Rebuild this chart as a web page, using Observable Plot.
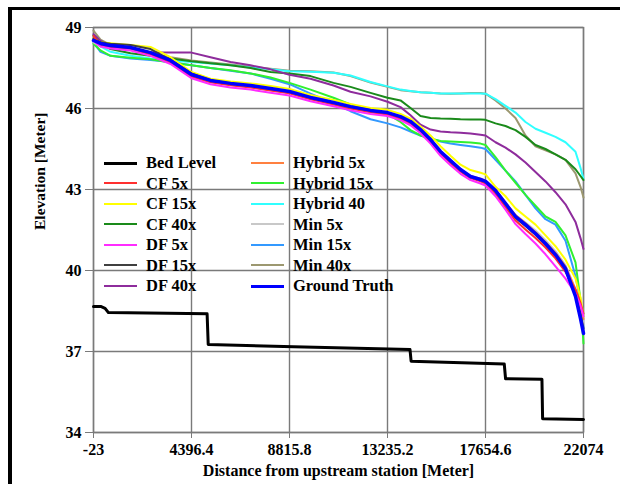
<!DOCTYPE html>
<html>
<head>
<meta charset="utf-8">
<script src="https://cdn.jsdelivr.net/npm/d3@7"></script>
<script src="https://cdn.jsdelivr.net/npm/@observablehq/plot@0.6"></script>
<style>
  html, body { margin: 0; padding: 0; background: #fff; }
  #wrap { position: relative; width: 620px; height: 484px; overflow: hidden; background: #fff; }
  #border { position: absolute; left: 8px; top: 7px; width: 640px; height: 500px; border-left: 4px solid #000; border-top: 3px solid #000; box-sizing: border-box; }
  #chart { position: absolute; left: 0; top: 0; }
  .legend { position: absolute; left: 0; top: 0; font-family: "Liberation Serif", "Times New Roman", serif; font-weight: bold; font-size: 16.5px; color: #000; }
  .legend .item { position: absolute; white-space: nowrap; height: 20px; line-height: 20px; }
  .legend .sw { position: absolute; width: 33px; }
  .legend .lab { position: absolute; left: 42px; top: 0; }
</style>
</head>
<body>
<div id="wrap">
  <div id="chart"></div>
  <div id="border"></div>
  <div class="legend" id="legend"></div>
</div>
<script>
// Stations along the reach [m]
const stations = [-23, 293, 744, 1646, 2548, 3449, 4396, 5253, 6155, 7057, 7959, 8816, 9763, 10800, 11566, 12468, 13235, 13822, 14273, 14724, 15175, 15625, 16076, 16527, 16978, 17429, 17655, 18106, 18557, 19008, 19458, 19909, 20360, 20811, 21262, 21713, 21939, 22074];

// Bed level (stepped profile)
const bedX = [-23, 300, 500, 650, 5100, 5150, 9000, 14250, 14300, 18500, 18560, 20200, 20230, 22074];
const bedY = [38.67, 38.67, 38.6, 38.44, 38.4, 37.26, 37.18, 37.07, 36.64, 36.54, 35.99, 35.97, 34.51, 34.48];

// Water surface elevations [m] at stations
const cf5 = [48.68, 48.35, 48.28, 48.22, 48.0, 47.7, 47.18, 46.97, 46.86, 46.78, 46.67, 46.56, 46.34, 46.15, 46.0, 45.86, 45.78, 45.62, 45.42, 45.12, 44.76, 44.33, 43.98, 43.66, 43.42, 43.30, 43.22, 42.85, 42.35, 41.85, 41.52, 41.2, 40.85, 40.45, 39.95, 39.3, 38.8, 38.4];
const cf15 = [48.6, 48.45, 48.42, 48.35, 48.28, 47.9, 47.35, 47.1, 47.0, 46.93, 46.83, 46.72, 46.5, 46.32, 46.17, 46.02, 45.95, 45.8, 45.62, 45.33, 45.0, 44.6, 44.25, 43.92, 43.72, 43.62, 43.56, 43.1, 42.75, 42.3, 42.0, 41.7, 41.3, 40.9, 40.4, 39.7, 39.0, 38.3];
const cf40 = [48.7, 48.4, 48.2, 48.05, 47.95, 47.85, 47.75, 47.68, 47.6, 47.5, 47.35, 47.3, 47.2, 46.95, 46.8, 46.58, 46.4, 46.3, 46.02, 45.72, 45.65, 45.63, 45.62, 45.6, 45.59, 45.59, 45.58, 45.45, 45.35, 45.2, 44.95, 44.65, 44.5, 44.3, 44.1, 43.75, 43.5, 43.35];
const df5 = [48.5, 48.3, 48.22, 48.15, 47.95, 47.65, 47.12, 46.9, 46.78, 46.7, 46.58, 46.48, 46.27, 46.08, 45.93, 45.8, 45.72, 45.57, 45.38, 45.08, 44.7, 44.25, 43.9, 43.58, 43.35, 43.22, 43.15, 42.75, 42.25, 41.72, 41.35, 41.0, 40.6, 40.15, 39.7, 39.15, 38.7, 38.3];
const df15 = [48.6, 48.45, 48.4, 48.35, 48.2, 47.8, 47.3, 47.05, 46.92, 46.83, 46.72, 46.6, 46.4, 46.2, 46.05, 45.9, 45.82, 45.67, 45.48, 45.18, 44.8, 44.36, 44.02, 43.7, 43.45, 43.34, 43.27, 42.9, 42.42, 41.95, 41.65, 41.32, 40.95, 40.5, 40.0, 39.1, 38.4, 37.85];
const df40 = [48.75, 48.5, 48.35, 48.2, 48.08, 48.07, 48.07, 47.9, 47.72, 47.6, 47.45, 47.25, 47.1, 46.85, 46.62, 46.45, 46.25, 46.05, 45.75, 45.4, 45.22, 45.15, 45.12, 45.1, 45.07, 45.03, 45.0, 44.75, 44.55, 44.3, 44.0, 43.65, 43.3, 42.9, 42.45, 41.8, 41.2, 40.8];
const hyb5 = [48.55, 48.38, 48.3, 48.24, 48.03, 47.74, 47.22, 47.0, 46.9, 46.82, 46.71, 46.6, 46.39, 46.2, 46.05, 45.92, 45.84, 45.68, 45.5, 45.2, 44.84, 44.4, 44.07, 43.75, 43.5, 43.4, 43.33, 43.0, 42.52, 42.05, 41.75, 41.42, 41.05, 40.65, 40.15, 39.3, 38.7, 38.2];
const hyb15 = [48.4, 48.15, 47.95, 47.88, 47.82, 47.7, 47.6, 47.5, 47.42, 47.3, 47.15, 46.95, 46.7, 46.4, 46.15, 45.95, 45.8, 45.5, 45.2, 45.0, 44.88, 44.8, 44.78, 44.76, 44.74, 44.7, 44.65, 44.2, 43.7, 43.25, 42.8, 42.4, 42.0, 41.8, 41.3, 40.3, 38.9, 37.3];
const hyb40 = [48.5, 48.3, 48.1, 47.95, 47.85, 47.78, 47.72, 47.67, 47.6, 47.52, 47.45, 47.38, 47.36, 47.32, 47.22, 46.98, 46.82, 46.7, 46.65, 46.6, 46.58, 46.56, 46.56, 46.56, 46.56, 46.56, 46.55, 46.35, 46.1, 45.85, 45.5, 45.25, 45.1, 44.95, 44.75, 44.4, 43.8, 43.4];
const min5 = [48.45, 48.3, 48.25, 48.2, 48.0, 47.72, 47.2, 46.98, 46.87, 46.8, 46.68, 46.57, 46.36, 46.16, 46.02, 45.88, 45.8, 45.65, 45.46, 45.16, 44.8, 44.37, 44.04, 43.72, 43.47, 43.36, 43.29, 42.95, 42.5, 42.05, 41.78, 41.48, 41.12, 40.72, 40.2, 39.3, 38.6, 38.0];
const min15 = [48.45, 48.1, 47.95, 47.85, 47.8, 47.72, 47.6, 47.5, 47.4, 47.3, 47.1, 46.9, 46.55, 46.2, 45.9, 45.6, 45.45, 45.3, 45.15, 45.0, 44.9, 44.78, 44.7, 44.65, 44.6, 44.55, 44.5, 44.1, 43.7, 43.3, 42.8, 42.3, 41.9, 41.7, 41.1, 39.8, 38.8, 37.9];
const min40 = [48.88, 48.55, 48.35, 48.2, 48.05, 47.9, 47.78, 47.7, 47.63, 47.55, 47.47, 47.4, 47.38, 47.33, 47.2, 46.96, 46.8, 46.68, 46.64, 46.6, 46.58, 46.56, 46.55, 46.56, 46.57, 46.57, 46.55, 46.3, 46.0, 45.65, 45.0, 44.6, 44.45, 44.3, 44.1, 43.6, 43.1, 42.7];
const truth = [48.52, 48.41, 48.33, 48.26, 48.07, 47.78, 47.26, 47.04, 46.93, 46.85, 46.74, 46.63, 46.41, 46.22, 46.07, 45.93, 45.85, 45.70, 45.52, 45.22, 44.85, 44.41, 44.07, 43.74, 43.48, 43.37, 43.30, 42.96, 42.48, 42.0, 41.70, 41.37, 41.0, 40.59, 40.07, 39.04, 38.22, 37.67];

const xTicks = [-23, 4396.4, 8815.8, 13235.2, 17654.6, 22074];
const xTickLabels = ["-23", "4396.4", "8815.8", "13235.2", "17654.6", "22074"];
const yTicks = [34, 37, 40, 43, 46, 49];

const seriesNames = ["Bed Level", "CF 5x", "CF 15x", "CF 40x", "DF 5x", "DF 15x", "DF 40x",
                     "Hybrid 5x", "Hybrid 15x", "Hybrid 40", "Min 5x", "Min 15x", "Min 40x", "Ground Truth"];
const seriesColors = ["#000000", "#ff3030", "#ffff00", "#1a8a1a", "#ff2cff", "#404040", "#8e2c9c",
                      "#ff8040", "#30f030", "#30ffff", "#c8c8c8", "#3399ff", "#9c9870", "#0000ff"];
const seriesValues = [null, cf5, cf15, cf40, df5, df15, df40, hyb5, hyb15, hyb40, min5, min15, min40, truth];

// Build a tidy table for the library
const rows = [];
bedX.forEach((x, i) => rows.push({name: "Bed Level", x, y: bedY[i]}));
seriesValues.forEach((vals, k) => {
  if (!vals) return;
  stations.forEach((x, i) => rows.push({name: seriesNames[k], x, y: vals[i]}));
});
const colorOf = Object.fromEntries(seriesNames.map((n, i) => [n, seriesColors[i]]));
const drawOrder = ["Min 40x", "Hybrid 40", "CF 40x", "DF 40x", "Min 15x", "Hybrid 15x", "CF 15x", "Min 5x", "Hybrid 5x", "DF 15x", "CF 5x", "DF 5x"];

const font = '"Liberation Serif", "Times New Roman", serif';
const marks = [
  Plot.gridX(xTicks, {stroke: "#7a7a7a", strokeOpacity: 1, strokeWidth: 1.4}),
  Plot.gridY(yTicks, {stroke: "#7a7a7a", strokeOpacity: 1, strokeWidth: 1.4}),
  Plot.frame({stroke: "#7a7a7a", strokeWidth: 1.4}),
  Plot.axisY(yTicks, {tickSize: 8, tickPadding: 4, stroke: "#7a7a7a", fill: "#000", fontSize: 16, fontWeight: "bold", label: null}),
  Plot.axisX(xTicks, {tickSize: 6, tickPadding: 5, stroke: "#7a7a7a", fill: "#000", fontSize: 16, fontWeight: "bold", label: null,
    tickFormat: d => xTickLabels[xTicks.indexOf(d)]}),
  Plot.line(rows.filter(r => r.name === "Bed Level"), {x: "x", y: "y", stroke: colorOf["Bed Level"], strokeWidth: 3, curve: "linear"})
];
drawOrder.forEach(n => {
  marks.push(Plot.line(rows.filter(r => r.name === n), {x: "x", y: "y", stroke: colorOf[n], strokeWidth: 2, curve: "linear"}));
});
marks.push(Plot.line(rows.filter(r => r.name === "Ground Truth"), {x: "x", y: "y", stroke: colorOf["Ground Truth"], strokeWidth: 3.5}));
marks.push(Plot.text(["Distance from upstream station [Meter]"], {frameAnchor: "bottom", dy: 32, text: d => d, fontSize: 16, fontWeight: "bold", fill: "#000", lineAnchor: "top"}));
marks.push(Plot.text(["Elevation [Meter]"], {frameAnchor: "left", dx: -53, rotate: -90, text: d => d, fontSize: 15.5, fontWeight: "bold", fill: "#000"}));

const chart = Plot.plot({
  width: 620,
  height: 484,
  marginLeft: 93,
  marginRight: 37,
  marginTop: 27,
  marginBottom: 52,
  style: {fontFamily: font, background: "#fff", color: "#000"},
  x: {domain: [-23, 22074]},
  y: {domain: [34, 49]},
  marks
});
document.getElementById("chart").appendChild(chart);

// Legend (HTML)
const legend = document.getElementById("legend");
seriesNames.forEach((n, i) => {
  const col = i < 7 ? 0 : 1;
  const row = i % 7;
  const item = document.createElement("div");
  item.className = "item";
  item.style.left = (col === 0 ? 104 : 251) + "px";
  item.style.top = (153 + row * 20.5) + "px";
  const sw = document.createElement("div");
  sw.className = "sw";
  const th = n === "Bed Level" ? 3 : (n === "Ground Truth" ? 3 : 2.5);
  sw.style.borderTop = th + "px solid " + colorOf[n];
  sw.style.top = (10 - th / 2) + "px";
  const lab = document.createElement("span");
  lab.className = "lab";
  lab.textContent = n;
  item.appendChild(sw);
  item.appendChild(lab);
  legend.appendChild(item);
});
</script>
</body>
</html>
